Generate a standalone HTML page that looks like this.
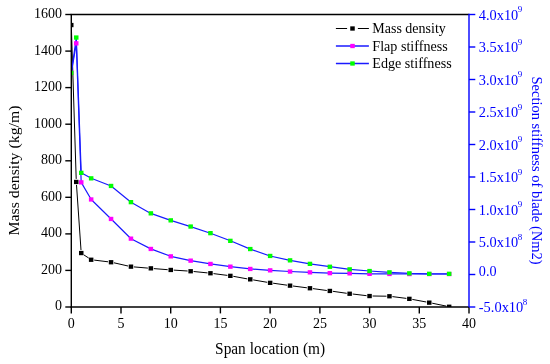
<!DOCTYPE html>
<html><head><meta charset="utf-8"><title>Chart</title><style>html,body{margin:0;padding:0;background:#fff;width:550px;height:364px;overflow:hidden}</style></head><body>
<svg width="550" height="364" viewBox="0 0 550 364" style="display:block;position:absolute;left:0;top:0" font-family="'Liberation Serif', serif">
<rect width="550" height="364" fill="#fff"/>
<defs><clipPath id="c"><rect x="71.3" y="14.5" width="397.7" height="292.5"/></clipPath></defs>
<g clip-path="url(#c)">
<line x1="71.4" y1="28.0" x2="76.2" y2="178.9" stroke="#000" stroke-width="1.0"/><line x1="76.5" y1="184.9" x2="81.0" y2="250.1" stroke="#000" stroke-width="1.0"/><line x1="83.7" y1="254.8" x2="88.7" y2="258.0" stroke="#000" stroke-width="1.0"/><line x1="94.2" y1="260.1" x2="108.1" y2="261.8" stroke="#000" stroke-width="1.0"/><line x1="114.0" y1="262.8" x2="128.0" y2="266.0" stroke="#000" stroke-width="1.0"/><line x1="133.9" y1="266.9" x2="147.9" y2="268.1" stroke="#000" stroke-width="1.0"/><line x1="153.8" y1="268.6" x2="167.7" y2="269.7" stroke="#000" stroke-width="1.0"/><line x1="173.7" y1="270.1" x2="187.6" y2="271.0" stroke="#000" stroke-width="1.0"/><line x1="193.6" y1="271.5" x2="207.5" y2="272.9" stroke="#000" stroke-width="1.0"/><line x1="213.5" y1="273.6" x2="227.4" y2="275.4" stroke="#000" stroke-width="1.0"/><line x1="233.3" y1="276.3" x2="247.3" y2="278.9" stroke="#000" stroke-width="1.0"/><line x1="253.2" y1="279.9" x2="267.2" y2="282.3" stroke="#000" stroke-width="1.0"/><line x1="273.1" y1="283.2" x2="287.1" y2="285.2" stroke="#000" stroke-width="1.0"/><line x1="293.0" y1="286.0" x2="306.9" y2="287.8" stroke="#000" stroke-width="1.0"/><line x1="312.9" y1="288.6" x2="326.8" y2="290.5" stroke="#000" stroke-width="1.0"/><line x1="332.8" y1="291.3" x2="346.7" y2="293.3" stroke="#000" stroke-width="1.0"/><line x1="352.7" y1="294.0" x2="366.6" y2="295.7" stroke="#000" stroke-width="1.0"/><line x1="372.6" y1="296.0" x2="386.5" y2="296.2" stroke="#000" stroke-width="1.0"/><line x1="392.4" y1="296.6" x2="406.4" y2="298.4" stroke="#000" stroke-width="1.0"/><line x1="412.3" y1="299.4" x2="426.3" y2="302.0" stroke="#000" stroke-width="1.0"/><line x1="432.2" y1="303.2" x2="446.2" y2="306.1" stroke="#000" stroke-width="1.0"/>
<polyline fill="none" stroke="#1a1aff" stroke-width="1.2" stroke-linejoin="round" points="71.3,73.0 76.3,43.4 81.2,182.4 91.2,199.5 111.1,219.0 131.0,238.7 150.8,248.9 170.7,256.3 190.6,260.6 210.5,263.9 230.4,266.6 250.3,268.9 270.1,270.3 290.0,271.5 309.9,272.4 329.8,273.1 349.7,273.4 369.6,273.8 389.5,273.9 409.3,274.0 429.2,274.0 449.1,274.0"/>
<polyline fill="none" stroke="#1a1aff" stroke-width="1.2" stroke-linejoin="round" points="71.3,73.0 76.3,37.5 81.2,172.8 91.2,178.3 111.1,186.0 131.0,202.2 150.8,213.4 170.7,220.4 190.6,226.6 210.5,233.2 230.4,240.8 250.3,249.1 270.1,256.0 290.0,260.3 309.9,263.8 329.8,266.7 349.7,269.4 369.6,271.0 389.5,272.3 409.3,273.3 429.2,273.8 449.1,273.8"/>
<rect x="69.0" y="22.9" width="4.5" height="4.3" fill="#000"/><rect x="74.0" y="179.8" width="4.5" height="4.3" fill="#000"/><rect x="79.0" y="250.9" width="4.5" height="4.3" fill="#000"/><rect x="88.9" y="257.6" width="4.5" height="4.3" fill="#000"/><rect x="108.8" y="260.1" width="4.5" height="4.3" fill="#000"/><rect x="128.7" y="264.5" width="4.5" height="4.3" fill="#000"/><rect x="148.6" y="266.2" width="4.5" height="4.3" fill="#000"/><rect x="168.5" y="267.8" width="4.5" height="4.3" fill="#000"/><rect x="188.4" y="269.1" width="4.5" height="4.3" fill="#000"/><rect x="208.2" y="271.1" width="4.5" height="4.3" fill="#000"/><rect x="228.1" y="273.7" width="4.5" height="4.3" fill="#000"/><rect x="248.0" y="277.2" width="4.5" height="4.3" fill="#000"/><rect x="267.9" y="280.7" width="4.5" height="4.3" fill="#000"/><rect x="287.8" y="283.5" width="4.5" height="4.3" fill="#000"/><rect x="307.7" y="286.1" width="4.5" height="4.3" fill="#000"/><rect x="327.6" y="288.8" width="4.5" height="4.3" fill="#000"/><rect x="347.4" y="291.6" width="4.5" height="4.3" fill="#000"/><rect x="367.3" y="293.9" width="4.5" height="4.3" fill="#000"/><rect x="387.2" y="294.1" width="4.5" height="4.3" fill="#000"/><rect x="407.1" y="296.7" width="4.5" height="4.3" fill="#000"/><rect x="427.0" y="300.5" width="4.5" height="4.3" fill="#000"/><rect x="446.9" y="304.6" width="4.5" height="4.3" fill="#000"/>
<rect x="69.0" y="70.8" width="4.5" height="4.3" fill="#ff00ff"/><rect x="74.0" y="41.2" width="4.5" height="4.3" fill="#ff00ff"/><rect x="79.0" y="180.2" width="4.5" height="4.3" fill="#ff00ff"/><rect x="88.9" y="197.3" width="4.5" height="4.3" fill="#ff00ff"/><rect x="108.8" y="216.8" width="4.5" height="4.3" fill="#ff00ff"/><rect x="128.7" y="236.5" width="4.5" height="4.3" fill="#ff00ff"/><rect x="148.6" y="246.8" width="4.5" height="4.3" fill="#ff00ff"/><rect x="168.5" y="254.2" width="4.5" height="4.3" fill="#ff00ff"/><rect x="188.4" y="258.5" width="4.5" height="4.3" fill="#ff00ff"/><rect x="208.2" y="261.8" width="4.5" height="4.3" fill="#ff00ff"/><rect x="228.1" y="264.5" width="4.5" height="4.3" fill="#ff00ff"/><rect x="248.0" y="266.8" width="4.5" height="4.3" fill="#ff00ff"/><rect x="267.9" y="268.2" width="4.5" height="4.3" fill="#ff00ff"/><rect x="287.8" y="269.4" width="4.5" height="4.3" fill="#ff00ff"/><rect x="307.7" y="270.2" width="4.5" height="4.3" fill="#ff00ff"/><rect x="327.6" y="271.0" width="4.5" height="4.3" fill="#ff00ff"/><rect x="347.4" y="271.2" width="4.5" height="4.3" fill="#ff00ff"/><rect x="367.3" y="271.7" width="4.5" height="4.3" fill="#ff00ff"/><rect x="387.2" y="271.8" width="4.5" height="4.3" fill="#ff00ff"/><rect x="407.1" y="271.9" width="4.5" height="4.3" fill="#ff00ff"/><rect x="427.0" y="271.9" width="4.5" height="4.3" fill="#ff00ff"/><rect x="446.9" y="271.9" width="4.5" height="4.3" fill="#ff00ff"/>
<rect x="69.0" y="70.8" width="4.5" height="4.3" fill="#00ff00"/><rect x="74.0" y="35.4" width="4.5" height="4.3" fill="#00ff00"/><rect x="79.0" y="170.7" width="4.5" height="4.3" fill="#00ff00"/><rect x="88.9" y="176.2" width="4.5" height="4.3" fill="#00ff00"/><rect x="108.8" y="183.8" width="4.5" height="4.3" fill="#00ff00"/><rect x="128.7" y="200.0" width="4.5" height="4.3" fill="#00ff00"/><rect x="148.6" y="211.2" width="4.5" height="4.3" fill="#00ff00"/><rect x="168.5" y="218.2" width="4.5" height="4.3" fill="#00ff00"/><rect x="188.4" y="224.4" width="4.5" height="4.3" fill="#00ff00"/><rect x="208.2" y="231.0" width="4.5" height="4.3" fill="#00ff00"/><rect x="228.1" y="238.7" width="4.5" height="4.3" fill="#00ff00"/><rect x="248.0" y="246.9" width="4.5" height="4.3" fill="#00ff00"/><rect x="267.9" y="253.8" width="4.5" height="4.3" fill="#00ff00"/><rect x="287.8" y="258.2" width="4.5" height="4.3" fill="#00ff00"/><rect x="307.7" y="261.7" width="4.5" height="4.3" fill="#00ff00"/><rect x="327.6" y="264.6" width="4.5" height="4.3" fill="#00ff00"/><rect x="347.4" y="267.2" width="4.5" height="4.3" fill="#00ff00"/><rect x="367.3" y="268.9" width="4.5" height="4.3" fill="#00ff00"/><rect x="387.2" y="270.2" width="4.5" height="4.3" fill="#00ff00"/><rect x="407.1" y="271.2" width="4.5" height="4.3" fill="#00ff00"/><rect x="427.0" y="271.7" width="4.5" height="4.3" fill="#00ff00"/><rect x="446.9" y="271.7" width="4.5" height="4.3" fill="#00ff00"/>
</g>
<g stroke="#000" stroke-width="1.4" fill="none">
<line x1="70.6" y1="14.5" x2="469.0" y2="14.5"/>
<line x1="71.3" y1="14.5" x2="71.3" y2="307.7"/>
<line x1="70.6" y1="307.0" x2="469.0" y2="307.0"/>
<line x1="65.3" y1="307.0" x2="71.3" y2="307.0"/>
<line x1="65.3" y1="270.4" x2="71.3" y2="270.4"/>
<line x1="65.3" y1="233.9" x2="71.3" y2="233.9"/>
<line x1="65.3" y1="197.3" x2="71.3" y2="197.3"/>
<line x1="65.3" y1="160.8" x2="71.3" y2="160.8"/>
<line x1="65.3" y1="124.2" x2="71.3" y2="124.2"/>
<line x1="65.3" y1="87.6" x2="71.3" y2="87.6"/>
<line x1="65.3" y1="51.1" x2="71.3" y2="51.1"/>
<line x1="65.3" y1="14.5" x2="71.3" y2="14.5"/>
<line x1="71.3" y1="307.0" x2="71.3" y2="313.4"/>
<line x1="121.0" y1="307.0" x2="121.0" y2="313.4"/>
<line x1="170.7" y1="307.0" x2="170.7" y2="313.4"/>
<line x1="220.4" y1="307.0" x2="220.4" y2="313.4"/>
<line x1="270.1" y1="307.0" x2="270.1" y2="313.4"/>
<line x1="319.9" y1="307.0" x2="319.9" y2="313.4"/>
<line x1="369.6" y1="307.0" x2="369.6" y2="313.4"/>
<line x1="419.3" y1="307.0" x2="419.3" y2="313.4"/>
<line x1="469.0" y1="307.0" x2="469.0" y2="313.4"/>
</g>
<g stroke="#0000ff" stroke-width="1.4" fill="none">
<line x1="469.0" y1="13.8" x2="469.0" y2="307.0"/>
<line x1="469.0" y1="307.0" x2="475.3" y2="307.0"/>
<line x1="469.0" y1="274.5" x2="475.3" y2="274.5"/>
<line x1="469.0" y1="242.0" x2="475.3" y2="242.0"/>
<line x1="469.0" y1="209.5" x2="475.3" y2="209.5"/>
<line x1="469.0" y1="177.0" x2="475.3" y2="177.0"/>
<line x1="469.0" y1="144.5" x2="475.3" y2="144.5"/>
<line x1="469.0" y1="112.0" x2="475.3" y2="112.0"/>
<line x1="469.0" y1="79.5" x2="475.3" y2="79.5"/>
<line x1="469.0" y1="47.0" x2="475.3" y2="47.0"/>
<line x1="469.0" y1="14.5" x2="475.3" y2="14.5"/>
</g>
<g font-size="15.5" fill="#000" text-anchor="end">
<text x="62" y="310.4" textLength="7" lengthAdjust="spacingAndGlyphs">0</text>
<text x="62" y="273.8" textLength="21" lengthAdjust="spacingAndGlyphs">200</text>
<text x="62" y="237.3" textLength="21" lengthAdjust="spacingAndGlyphs">400</text>
<text x="62" y="200.7" textLength="21" lengthAdjust="spacingAndGlyphs">600</text>
<text x="62" y="164.2" textLength="21" lengthAdjust="spacingAndGlyphs">800</text>
<text x="62" y="127.6" textLength="28" lengthAdjust="spacingAndGlyphs">1000</text>
<text x="62" y="91.0" textLength="28" lengthAdjust="spacingAndGlyphs">1200</text>
<text x="62" y="54.5" textLength="28" lengthAdjust="spacingAndGlyphs">1400</text>
<text x="62" y="17.9" textLength="28" lengthAdjust="spacingAndGlyphs">1600</text>
</g>
<g font-size="15.5" fill="#000" text-anchor="middle">
<text x="71.3" y="327.5" textLength="7" lengthAdjust="spacingAndGlyphs">0</text>
<text x="121.0" y="327.5" textLength="7" lengthAdjust="spacingAndGlyphs">5</text>
<text x="170.7" y="327.5" textLength="14" lengthAdjust="spacingAndGlyphs">10</text>
<text x="220.4" y="327.5" textLength="14" lengthAdjust="spacingAndGlyphs">15</text>
<text x="270.1" y="327.5" textLength="14" lengthAdjust="spacingAndGlyphs">20</text>
<text x="319.9" y="327.5" textLength="14" lengthAdjust="spacingAndGlyphs">25</text>
<text x="369.6" y="327.5" textLength="14" lengthAdjust="spacingAndGlyphs">30</text>
<text x="419.3" y="327.5" textLength="14" lengthAdjust="spacingAndGlyphs">35</text>
<text x="469.0" y="327.5" textLength="14" lengthAdjust="spacingAndGlyphs">40</text>
</g>
<g font-size="15.5" fill="#0000ff" text-anchor="start">
<text x="478.8" y="312.2" textLength="44.5" lengthAdjust="spacingAndGlyphs">-5.0x10</text>
<text x="522.7" y="304.7" font-size="9">8</text>
<text x="478.8" y="276.2" textLength="17.7" lengthAdjust="spacingAndGlyphs">0.0</text>
<text x="478.8" y="247.2" textLength="39.5" lengthAdjust="spacingAndGlyphs">5.0x10</text>
<text x="517.7" y="239.7" font-size="9">8</text>
<text x="478.8" y="214.7" textLength="39.5" lengthAdjust="spacingAndGlyphs">1.0x10</text>
<text x="517.7" y="207.2" font-size="9">9</text>
<text x="478.8" y="182.2" textLength="39.5" lengthAdjust="spacingAndGlyphs">1.5x10</text>
<text x="517.7" y="174.7" font-size="9">9</text>
<text x="478.8" y="149.7" textLength="39.5" lengthAdjust="spacingAndGlyphs">2.0x10</text>
<text x="517.7" y="142.2" font-size="9">9</text>
<text x="478.8" y="117.2" textLength="39.5" lengthAdjust="spacingAndGlyphs">2.5x10</text>
<text x="517.7" y="109.7" font-size="9">9</text>
<text x="478.8" y="84.7" textLength="39.5" lengthAdjust="spacingAndGlyphs">3.0x10</text>
<text x="517.7" y="77.2" font-size="9">9</text>
<text x="478.8" y="52.2" textLength="39.5" lengthAdjust="spacingAndGlyphs">3.5x10</text>
<text x="517.7" y="44.7" font-size="9">9</text>
<text x="478.8" y="19.7" textLength="39.5" lengthAdjust="spacingAndGlyphs">4.0x10</text>
<text x="517.7" y="12.2" font-size="9">9</text>
</g>
<text font-size="15.6" fill="#000" text-anchor="middle" transform="translate(19.3,170.5) rotate(-90)" textLength="130" lengthAdjust="spacingAndGlyphs">Mass density (kg/m)</text>
<text font-size="16" fill="#000" text-anchor="middle" x="270.1" y="354.4" textLength="110" lengthAdjust="spacingAndGlyphs">Span location (m)</text>
<text font-size="15.3" fill="#0000ff" text-anchor="middle" transform="translate(531.8,170.5) rotate(90)" textLength="188" lengthAdjust="spacingAndGlyphs">Section stiffness of blade (Nm2)</text>
<line x1="335.9" y1="28.5" x2="347.1" y2="28.5" stroke="#000" stroke-width="1"/>
<line x1="357.9" y1="28.5" x2="368.9" y2="28.5" stroke="#000" stroke-width="1"/>
<rect x="350.25" y="26.35" width="4.5" height="4.3" fill="#000"/>
<line x1="335.9" y1="46" x2="368.9" y2="46" stroke="#1a1aff" stroke-width="1.3"/>
<rect x="350.25" y="43.85" width="4.5" height="4.3" fill="#ff00ff"/>
<line x1="335.9" y1="63.5" x2="368.9" y2="63.5" stroke="#1a1aff" stroke-width="1.3"/>
<rect x="350.25" y="61.35" width="4.5" height="4.3" fill="#00ff00"/>
<g font-size="14" fill="#000">
<text x="372.3" y="33.3" textLength="73.5" lengthAdjust="spacingAndGlyphs">Mass density</text>
<text x="372.3" y="50.8" textLength="75.5" lengthAdjust="spacingAndGlyphs">Flap stiffness</text>
<text x="372.3" y="68.3" textLength="79.4" lengthAdjust="spacingAndGlyphs">Edge stiffness</text>
</g>
</svg>
</body></html>
